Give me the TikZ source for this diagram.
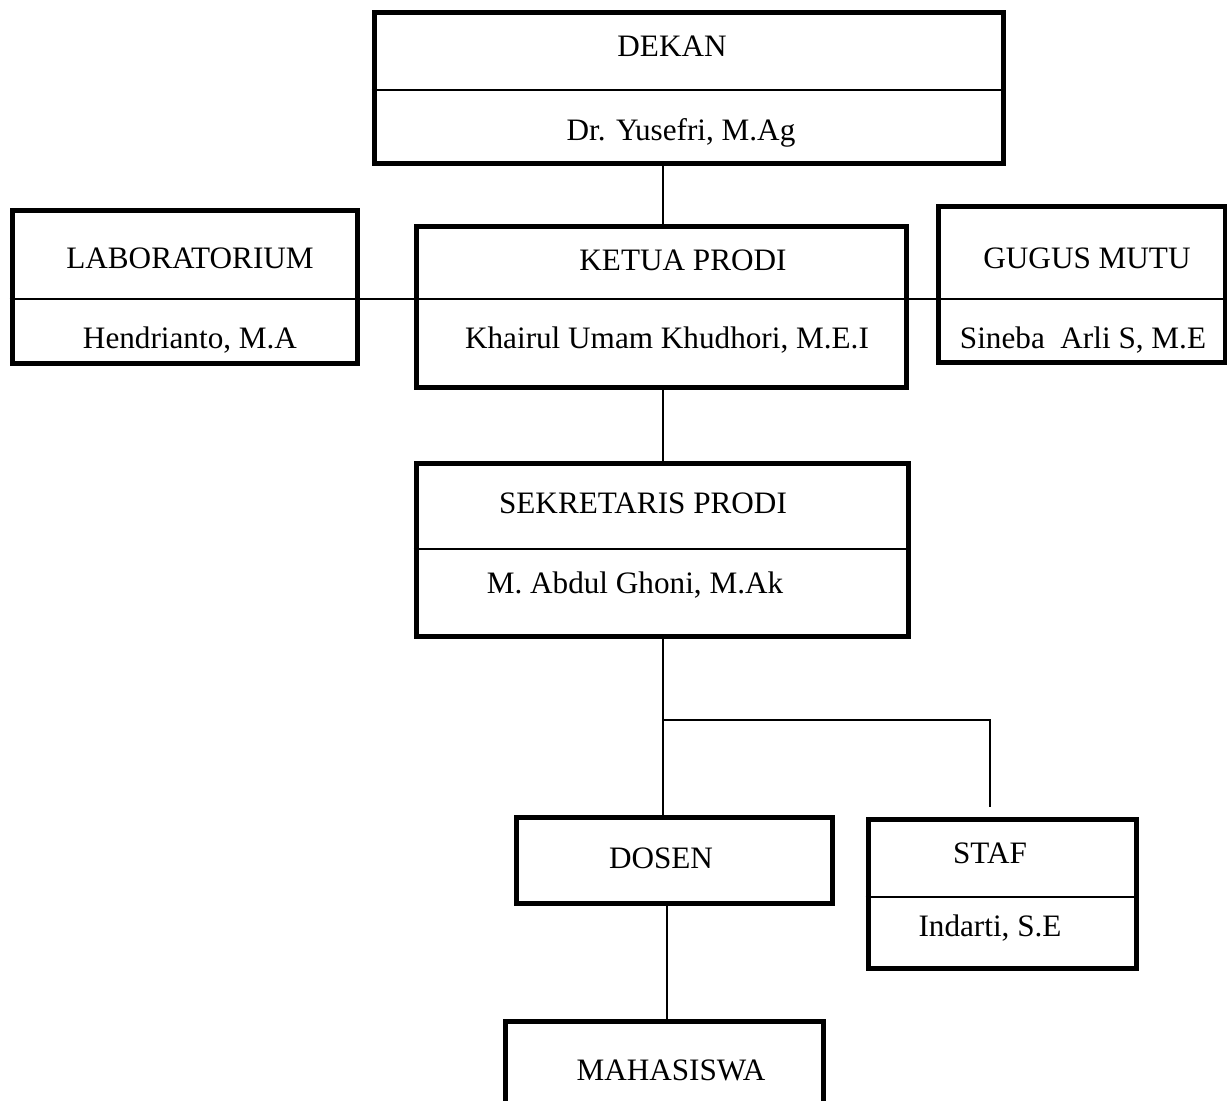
\documentclass[tikz,border=0pt]{standalone}
\usepackage{fontspec}
\setmainfont{Liberation Serif}
\usetikzlibrary{positioning}

\begin{document}
\begin{tikzpicture}[
  x=0.5pt, y=-0.5pt,
  font=\fontsize{15.6}{18}\selectfont,
  box/.style={draw, line width=2.5pt, inner sep=0pt},
  txt/.style={inner sep=0pt, anchor=center},
  link/.style={draw, line width=0.9pt}
]
\useasboundingbox (0,0) rectangle (1227,1101);

% boxes
\node[box, minimum width=314.5pt, minimum height=75.5pt] (dekan) at (688.5,88.5) {};
\node[box, minimum width=172.5pt, minimum height=76.5pt] (lab) at (184.5,287.5) {};
\node[box, minimum width=245pt, minimum height=80.5pt] (ketua) at (661,307.5) {};
\node[box, minimum width=143.5pt, minimum height=78pt] (gugus) at (1081.5,285) {};
\node[box, minimum width=246pt, minimum height=86pt] (sekprodi) at (662,550) {};
\node[box, minimum width=158pt, minimum height=43pt] (dosen) at (674,860) {};
\node[box, minimum width=134pt, minimum height=74.5pt] (staf) at (1002,893.5) {};
\node[box, minimum width=159pt, minimum height=47pt] (mhs) at (664,1068) {};

% texts
\node[txt] (dekan-t) at (672,46) {DEKAN};
\node[txt] (dekan-n) at (681,133) {Dr. Yusefri, M.Ag};
\node[txt] (lab-t) at (190,258) {LABORATORIUM};
\node[txt] (lab-n) at (190,340) {Hendrianto, M.A};
\node[txt] (ketua-t) at (683,260) {KETUA PRODI};
\node[txt] (ketua-n) at (667,340) {Khairul Umam Khudhori, M.E.I};
\node[txt] (gugus-t) at (1087,258) {GUGUS MUTU};
\node[txt] (gugus-n) at (1083,340) {Sineba\ \ Arli S, M.E};
\node[txt] (sekprodi-t) at (643,503) {SEKRETARIS PRODI};
\node[txt] (sekprodi-n) at (635,585) {M. Abdul Ghoni, M.Ak};
\node[txt] (dosen-t) at (661,858) {DOSEN};
\node[txt] (staf-t) at (990,853) {STAF};
\node[txt] (staf-n) at (990,928) {Indarti, S.E};
\node[txt] (mhs-t) at (671,1070) {MAHASISWA};

% dividers
\draw[link] (dekan.west |- 0,90) -- (dekan.east |- 0,90);
\draw[link] (sekprodi.west |- 0,549) -- (sekprodi.east |- 0,549);
\draw[link] (staf.west |- 0,897) -- (staf.east |- 0,897);
\draw[link] (lab.west |- 0,299) -- (gugus.east |- 0,299);

% connectors
\coordinate (split) at (663,720);
\coordinate (staf-end) at (990,807);
\draw[link] (dekan.south -| split) -- (ketua.north -| split);
\draw[link] (ketua.south -| split) -- (sekprodi.north -| split);
\draw[link] (sekprodi.south -| split) -- (dosen.north -| split);
\draw[link] (split) -| (staf-end);
\draw[link] (dosen.south -| 667,0) -- (mhs.north -| 667,0);

\end{tikzpicture}
\end{document}
